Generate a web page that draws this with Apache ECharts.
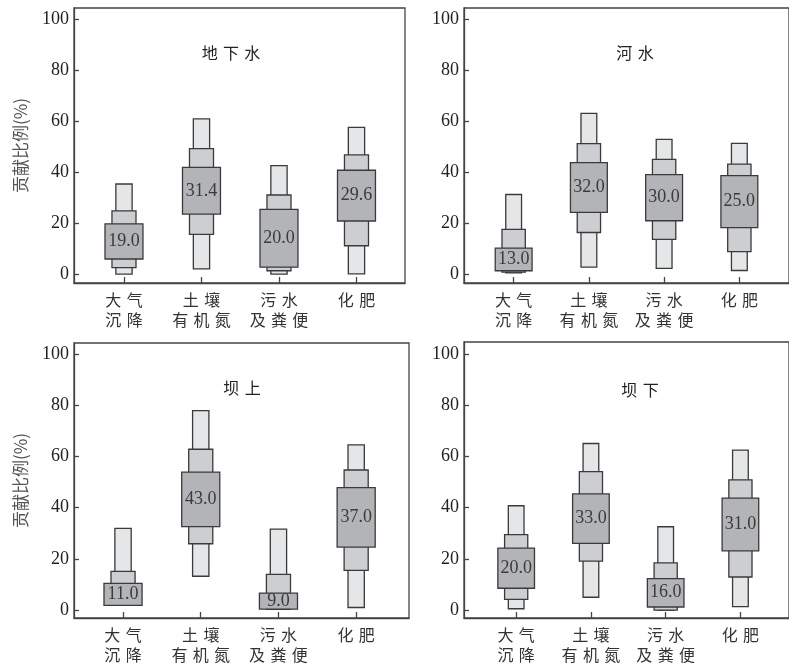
<!DOCTYPE html>
<html>
<head>
<meta charset="utf-8">
<script src="https://cdn.jsdelivr.net/npm/echarts@6/dist/echarts.min.js"></script>
<style>
html,body{margin:0;padding:0;background:#fff;}
#c{width:789px;height:666px;}
</style>
</head>
<body>
<div id="c"></div>
<script>
// ---------- DATA ----------
const categories = ['大\u2004气\n沉\u2004降', '土\u2004壤\n有\u2004机\u2004氮', '污\u2004水\n及\u2004粪\u2004便', '化\u2004肥'];
const panelTitles = ['地\u2004下\u2004水', '河\u2004水', '坝\u2004上', '坝\u2004下'];
const yTicks = [0, 20, 40, 60, 80, 100];
const yName = '贡献比例(%)';

// [low, high] per category: outer (95%), middle (75%), inner (50%) ranges
const gwOuter = [[0, 35.3], [2.0, 60.8], [0, 42.5], [0.1, 57.5]];
const gwMid   = [[2.5, 24.8], [15.6, 49.2], [1.3, 31.0], [11.1, 46.7]];
const gwInner = [[5.9, 19.7], [23.5, 41.8], [2.7, 25.4], [20.8, 40.7]];
const gwLabel = [19.0, 31.4, 20.0, 29.6];

const rvOuter = [[0.5, 31.2], [2.7, 63.0], [2.2, 52.8], [1.4, 51.2]];
const rvMid   = [[0.8, 17.5], [16.3, 51.1], [13.6, 45.0], [8.8, 43.1]];
const rvInner = [[1.3, 10.2], [24.2, 43.7], [20.9, 39.0], [18.2, 38.6]];
const rvLabel = [13.0, 32.0, 30.0, 25.0];

const upOuter = [[1.8, 31.9], [13.2, 77.9], [0.3, 31.6], [1.0, 64.5]];
const upMid   = [[1.8, 15.1], [25.9, 62.8], [0.3, 13.9], [15.5, 54.7]];
const upInner = [[1.8, 10.4], [32.6, 53.9], [0.4, 6.6], [24.6, 47.8]];
const upLabel = [11.0, 43.0, 9.0, 37.0];

const dnOuter = [[0.5, 40.7], [5.0, 65.0], [0, 32.5], [1.3, 62.4]];
const dnMid   = [[4.2, 29.4], [19.1, 54.0], [0, 18.4], [12.9, 50.8]];
const dnInner = [[8.5, 24.2], [26.0, 45.3], [1.2, 12.3], [23.1, 43.7]];
const dnLabel = [20.0, 33.0, 16.0, 31.0];

// ---------- STYLE ----------
const LEVEL_WIDTH = [0.21, 0.31, 0.49]; // in category units
const LEVEL_FILL = ['#e5e6e8', '#cdced1', '#b3b4b7'];
const STROKE = '#3a3a3a';

const panels = [
  {outer: gwOuter, mid: gwMid, inner: gwInner, label: gwLabel, title: panelTitles[0],
   grid: {left: 74, top: 8, width: 331, height: 275}, x: [0.355, 4.626], y: [-3.5, 104.3], tx: 226, ty: 50, yname: true},
  {outer: rvOuter, mid: rvMid, inner: rvInner, label: rvLabel, title: panelTitles[1],
   grid: {left: 464, top: 8, width: 334, height: 275}, x: [0.34, 4.66], y: [-3.5, 104.3], tx: 630, ty: 50, yname: false},
  {outer: upOuter, mid: upMid, inner: upInner, label: upLabel, title: panelTitles[2],
   grid: {left: 74, top: 343, width: 335, height: 275}, x: [0.369, 4.68], y: [-3.1, 104.3], tx: 237, ty: 385, yname: true},
  {outer: dnOuter, mid: dnMid, inner: dnInner, label: dnLabel, title: panelTitles[3],
   grid: {left: 464, top: 342, width: 336, height: 276}, x: [0.302, 4.65], y: [-3.1, 104.6], tx: 635, ty: 387, yname: false}
];

function makeRender(level, labels) {
  return function (params, api) {
    const x = api.value(0), lo = api.value(1), hi = api.value(2);
    const w = api.size([LEVEL_WIDTH[level], 0])[0];
    const pTop = api.coord([x, hi]);
    const pBot = api.coord([x, lo]);
    const rect = {
      type: 'rect',
      shape: {x: pTop[0] - w / 2, y: pTop[1], width: w, height: pBot[1] - pTop[1]},
      style: {fill: LEVEL_FILL[level], stroke: STROKE, lineWidth: 1.3}
    };
    if (!labels) return rect;
    return {
      type: 'group',
      children: [rect, {
        type: 'text',
        style: {
          text: labels[params.dataIndex].toFixed(1),
          x: pTop[0], y: (pTop[1] + pBot[1]) / 2,
          align: 'center', verticalAlign: 'middle',
          fontFamily: 'Liberation Serif', fontSize: 18, fill: '#3a3a3a'
        }
      }]
    };
  };
}

const grids = [], xAxes = [], yAxes = [], series = [], titles = [];
panels.forEach((p, i) => {
  grids.push(Object.assign({show: true, borderColor: '#444', borderWidth: 1.3, backgroundColor: 'transparent'}, p.grid));
  xAxes.push({
    type: 'value', gridIndex: i, min: p.x[0], max: p.x[1],
    axisLine: {onZero: false, lineStyle: {color: '#444', width: 1.3}},
    axisTick: {inside: true, length: 6, customValues: [1, 2, 3, 4], lineStyle: {color: '#444', width: 1.3}},
    axisLabel: {
      customValues: [1, 2, 3, 4],
      formatter: v => categories[Math.round(v) - 1],
      fontFamily: 'Noto Sans CJK SC', fontSize: 16, color: '#333', lineHeight: 20, margin: 7
    },
    splitLine: {show: false}
  });
  yAxes.push({
    type: 'value', gridIndex: i, min: p.y[0], max: p.y[1],
    name: p.yname ? yName : '', nameLocation: 'middle', nameGap: 45, nameRotate: 90,
    nameTextStyle: {fontFamily: 'Noto Sans CJK SC', fontSize: 17, color: '#555'},
    axisLine: {onZero: false, lineStyle: {color: '#444', width: 1.3}},
    axisTick: {inside: true, length: 5, customValues: yTicks, lineStyle: {color: '#444', width: 1.3}},
    axisLabel: {customValues: yTicks, fontFamily: 'Liberation Serif', fontSize: 18, color: '#222', margin: 5},
    splitLine: {show: false}
  });
  [p.outer, p.mid, p.inner].forEach((arr, level) => {
    series.push({
      type: 'custom', xAxisIndex: i, yAxisIndex: i,
      renderItem: makeRender(level, level === 2 ? p.label : null),
      data: arr.map((r, k) => [k + 1, r[0], r[1]]),
      clip: false, silent: true
    });
  });
  titles.push({
    text: p.title, left: p.tx, top: p.ty - 10, textAlign: 'center',
    textStyle: {fontFamily: 'Noto Sans CJK SC', fontSize: 16, fontWeight: 'normal', color: '#222'}
  });
});

const chart = echarts.init(document.getElementById('c'), null, {renderer: 'canvas'});
chart.setOption({
  animation: false,
  backgroundColor: '#fff',
  title: titles,
  grid: grids,
  xAxis: xAxes,
  yAxis: yAxes,
  series: series
});
</script>
</body>
</html>
